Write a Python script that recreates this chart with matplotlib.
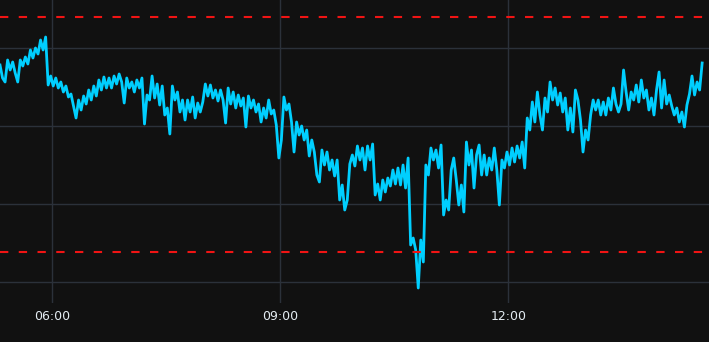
import pandas as pd
import matplotlib
matplotlib.use("Agg")
import matplotlib.pyplot as plt
import matplotlib.dates as mdates

# series sampled every 2 minutes from 05:19
start = "2024-01-02 05:19"
step = "2min"
values = [
    235, 222, 218, 240, 230, 238, 227, 218, 240, 234, 243, 236, 250, 242, 252, 246, 260, 250, 263, 215,
    224, 214, 222, 212, 218, 208, 214, 203, 206, 194, 182, 200, 190, 204, 196, 210, 200, 214, 204, 220,
    210, 223, 212, 222, 212, 224, 216, 226, 218, 197, 222, 212, 218, 208, 220, 212, 222, 176, 205, 200,
    224, 202, 216, 195, 214, 185, 192, 166, 214, 200, 208, 188, 200, 180, 200, 188, 203, 182, 197, 188,
    198, 216, 204, 215, 202, 210, 199, 210, 200, 177, 212, 196, 208, 192, 205, 194, 202, 173, 204, 192,
    200, 188, 196, 178, 192, 182, 200, 186, 190, 175, 142, 160, 203, 190, 196, 178, 148, 178, 165, 174,
    160, 170, 144, 160, 148, 125, 118, 150, 135, 148, 130, 140, 124, 140, 100, 115, 90, 100, 136, 145,
    134, 154, 140, 152, 130, 154, 140, 156, 105, 116, 100, 120, 108, 122, 114, 130, 116, 132, 115, 135,
    112, 142, 55, 62, 50, 12, 60, 38, 135, 125, 152, 140, 150, 132, 155, 85, 100, 90, 130, 142,
    120, 95, 115, 88, 158, 135, 150, 112, 145, 155, 125, 145, 125, 142, 130, 152, 130, 95, 140, 132,
    148, 135, 152, 138, 154, 142, 158, 132, 182, 170, 198, 178, 208, 185, 170, 202, 188, 218, 200, 212,
    195, 207, 188, 202, 170, 192, 168, 210, 200, 180, 148, 170, 160, 185, 200, 190, 200, 185, 198, 185,
    202, 190, 212, 196, 188, 196, 230, 208, 190, 208, 200, 215, 198, 220, 202, 210, 190, 202, 185, 210,
    228, 192, 220, 196, 205, 194, 185, 192, 178, 188, 173, 195, 206, 224, 205, 218, 210, 237,
]
grid_levels = [18, 96, 174, 252]
limit_levels = [48, 283]
tick_hours = [6, 9, 12]

bg = "#111111"
times = pd.date_range(start, periods=len(values), freq=step)

fig = plt.figure(figsize=(7.09, 3.42), dpi=100, facecolor=bg)
ax = fig.add_axes([0, 39 / 342, 1, 303 / 342], facecolor=bg)

ax.plot(times, values, color="#00cfff", lw=2.0, zorder=3)
for lv in limit_levels:
    ax.axhline(lv, color="#f01414", lw=1.5, linestyle=(0, (4, 5)), zorder=4)

ax.set_xlim(pd.Timestamp("2024-01-02 05:19"), pd.Timestamp("2024-01-02 14:38:24"))
ax.set_ylim(-3, 300)
ax.set_yticks(grid_levels)
ax.xaxis.set_major_locator(mdates.HourLocator(byhour=tick_hours))
ax.xaxis.set_major_formatter(mdates.DateFormatter("%H:%M"))
ax.grid(True, color="#2b313a", lw=1, zorder=0)
ax.tick_params(axis="x", length=0, pad=5, labelsize=9, labelcolor="#e4ecf2")
ax.tick_params(axis="y", length=0, labelleft=False)
for s in ax.spines.values():
    s.set_visible(False)

fig.savefig("out.png", dpi=100, facecolor=bg)
